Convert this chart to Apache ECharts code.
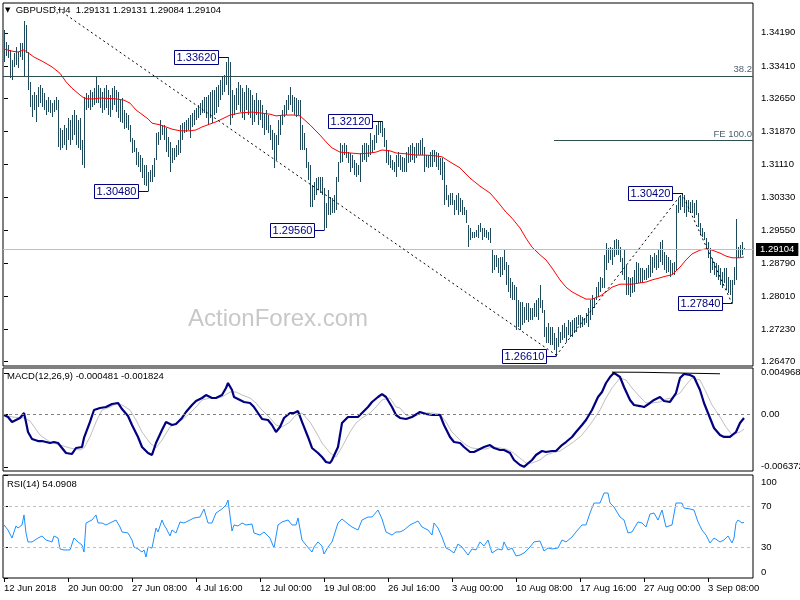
<!DOCTYPE html>
<html><head><meta charset="utf-8">
<script src="https://cdn.jsdelivr.net/npm/echarts@6.0.0/dist/echarts.min.js"></script>
<style>html,body{margin:0;padding:0;background:#fff}#c{width:800px;height:600px}</style>
</head><body><div id="c"></div>
<script>
const barHigh=[
1.3426,1.3397,1.3390,1.3379,1.3355,1.3372,1.3386,1.3374,1.3395,1.3395,
1.3447,1.3437,1.3374,1.3304,1.3273,1.3280,1.3273,1.3292,1.3297,1.3289,
1.3278,1.3261,1.3268,1.3261,1.3254,1.3261,1.3268,1.3261,1.3196,1.3191,
1.3203,1.3196,1.3219,1.3214,1.3226,1.3238,1.3226,1.3214,1.3219,1.3167,
1.3268,1.3278,1.3273,1.3285,1.3280,1.3289,1.3315,1.3297,1.3289,1.3280,
1.3289,1.3297,1.3285,1.3273,1.3289,1.3294,1.3285,1.3280,1.3261,1.3266,
1.3238,1.3231,1.3226,1.3203,1.3172,1.3167,1.3149,1.3139,1.3132,1.3125,
1.3109,1.3109,1.3092,1.3097,1.3109,1.3125,1.3184,1.3186,1.3214,1.3203,
1.3203,1.3196,1.3174,1.3163,1.3149,1.3149,1.3156,1.3167,1.3203,1.3207,
1.3210,1.3214,1.3219,1.3226,1.3231,1.3238,1.3243,1.3250,1.3254,1.3261,
1.3268,1.3268,1.3273,1.3280,1.3285,1.3285,1.3292,1.3297,1.3308,1.3315,
1.3320,1.3350,1.3362,1.3350,1.3285,1.3273,1.3289,1.3304,1.3297,1.3289,
1.3280,1.3297,1.3289,1.3285,1.3273,1.3261,1.3278,1.3261,1.3261,1.3250,
1.3231,1.3238,1.3226,1.3203,1.3191,1.3184,1.3179,1.3214,1.3226,1.3238,
1.3250,1.3261,1.3273,1.3292,1.3273,1.3268,1.3266,1.3261,1.3261,1.3203,
1.3184,1.3149,1.3116,1.3109,1.3062,1.3069,1.3078,1.3081,1.3081,1.3081,
1.3055,1.3020,1.3050,1.3034,1.3031,1.3038,1.3081,1.3116,1.3160,1.3156,
1.3160,1.3156,1.3139,1.3137,1.3132,1.3121,1.3113,1.3109,1.3137,1.3156,
1.3160,1.3160,1.3156,1.3184,1.3167,1.3179,1.3203,1.3210,1.3210,1.3212,
1.3196,1.3167,1.3144,1.3132,1.3121,1.3116,1.3132,1.3139,1.3132,1.3128,
1.3125,1.3139,1.3151,1.3156,1.3160,1.3151,1.3160,1.3160,1.3167,1.3172,
1.3151,1.3132,1.3132,1.3139,1.3144,1.3144,1.3139,1.3137,1.3125,1.3125,
1.3116,1.3062,1.3038,1.3043,1.3043,1.3027,1.3038,1.3043,1.3031,1.3027,
1.3010,1.3003,1.2968,1.2961,1.2951,1.2951,1.2956,1.2968,1.2972,1.2961,
1.2961,1.2956,1.2951,1.2961,1.2909,1.2898,1.2898,1.2890,1.2893,1.2893,
1.2909,1.2881,1.2874,1.2844,1.2834,1.2827,1.2822,1.2792,1.2787,1.2787,
1.2775,1.2785,1.2785,1.2773,1.2773,1.2785,1.2792,1.2797,1.2827,1.2792,
1.2768,1.2729,1.2738,1.2729,1.2729,1.2714,1.2703,1.2729,1.2717,1.2733,
1.2738,1.2729,1.2745,1.2740,1.2745,1.2750,1.2752,1.2757,1.2757,1.2752,
1.2750,1.2761,1.2773,1.2792,1.2804,1.2797,1.2822,1.2834,1.2846,1.2844,
1.2898,1.2926,1.2914,1.2916,1.2914,1.2933,1.2935,1.2933,1.2916,1.2890,
1.2909,1.2874,1.2846,1.2844,1.2846,1.2862,1.2881,1.2879,1.2867,1.2867,
1.2862,1.2867,1.2874,1.2898,1.2893,1.2902,1.2898,1.2909,1.2928,1.2933,
1.2905,1.2898,1.2893,1.2886,1.2879,1.2881,1.3015,1.3031,1.3038,1.3042,
1.3038,1.3027,1.3027,1.3022,1.3027,1.3020,1.3027,1.2996,1.2973,1.2961,
1.2951,1.2937,1.2928,1.2914,1.2890,1.2881,1.2879,1.2874,1.2867,1.2858,
1.2867,1.2867,1.2846,1.2839,1.2839,1.2869,1.2982,1.2916,1.2921,1.2928,
1.29131];
const barLow=[
1.3351,1.3365,1.3360,1.3313,1.3308,1.3339,1.3343,1.3336,1.3362,1.3355,
1.3315,1.3372,1.3285,1.3245,1.3221,1.3238,1.3210,1.3245,1.3254,1.3245,
1.3238,1.3226,1.3233,1.3231,1.3221,1.3233,1.3238,1.3151,1.3144,1.3149,
1.3156,1.3144,1.3167,1.3156,1.3167,1.3179,1.3156,1.3149,1.3144,1.3109,
1.3102,1.3238,1.3243,1.3238,1.3245,1.3250,1.3254,1.3254,1.3243,1.3231,
1.3238,1.3243,1.3226,1.3221,1.3238,1.3250,1.3233,1.3219,1.3210,1.3207,
1.3193,1.3196,1.3191,1.3163,1.3137,1.3139,1.3109,1.3104,1.3092,1.3078,
1.3062,1.3059,1.3048,1.3069,1.3069,1.3081,1.3121,1.3156,1.3167,1.3179,
1.3167,1.3139,1.3128,1.3092,1.3113,1.3121,1.3128,1.3132,1.3137,1.3167,
1.3184,1.3186,1.3191,1.3172,1.3198,1.3203,1.3214,1.3219,1.3226,1.3231,
1.3231,1.3219,1.3203,1.3219,1.3207,1.3226,1.3231,1.3245,1.3261,1.3273,
1.3280,1.3297,1.3273,1.3203,1.3219,1.3226,1.3238,1.3250,1.3233,1.3219,
1.3214,1.3238,1.3226,1.3219,1.3203,1.3210,1.3226,1.3203,1.3214,1.3196,
1.3179,1.3191,1.3184,1.3167,1.3144,1.3102,1.3121,1.3156,1.3179,1.3203,
1.3221,1.3226,1.3238,1.3250,1.3233,1.3226,1.3221,1.3226,1.3144,1.3144,
1.3144,1.3102,1.3074,1.3010,1.3010,1.3027,1.3038,1.3050,1.3043,1.3038,
1.2956,1.2961,1.2991,1.2991,1.2996,1.2996,1.3003,1.3069,1.3113,1.3116,
1.3132,1.3125,1.3113,1.3092,1.3102,1.3085,1.3081,1.3085,1.3069,1.3116,
1.3121,1.3116,1.3128,1.3132,1.3137,1.3144,1.3160,1.3179,1.3184,1.3174,
1.3151,1.3113,1.3109,1.3102,1.3097,1.3092,1.3081,1.3104,1.3097,1.3092,
1.3092,1.3092,1.3113,1.3116,1.3121,1.3113,1.3125,1.3132,1.3132,1.3132,
1.3092,1.3104,1.3102,1.3104,1.3104,1.3116,1.3104,1.3097,1.3085,1.3074,
1.3015,1.3027,1.3010,1.3015,1.3015,1.2991,1.3003,1.2991,1.2998,1.2991,
1.2991,1.2972,1.2916,1.2933,1.2937,1.2937,1.2940,1.2937,1.2951,1.2933,
1.2940,1.2937,1.2933,1.2926,1.2855,1.2862,1.2869,1.2855,1.2846,1.2851,
1.2862,1.2827,1.2811,1.2797,1.2792,1.2792,1.2722,1.2729,1.2722,1.2733,
1.2738,1.2745,1.2740,1.2745,1.2745,1.2752,1.2752,1.2745,1.2773,1.2761,
1.2705,1.2691,1.2691,1.2686,1.2686,1.2675,1.2661,1.2682,1.2691,1.2698,
1.2703,1.2693,1.2710,1.2705,1.2705,1.2714,1.2717,1.2733,1.2726,1.2729,
1.2733,1.2738,1.2729,1.2745,1.2757,1.2773,1.2792,1.2799,1.2811,1.2820,
1.2820,1.2862,1.2879,1.2886,1.2874,1.2893,1.2898,1.2898,1.2881,1.2851,
1.2839,1.2804,1.2804,1.2799,1.2808,1.2811,1.2832,1.2832,1.2832,1.2832,
1.2839,1.2839,1.2843,1.2846,1.2855,1.2867,1.2862,1.2867,1.2881,1.2874,
1.2862,1.2855,1.2858,1.2846,1.2851,1.2851,1.2862,1.2996,1.3003,1.3010,
1.2996,1.2987,1.2998,1.2996,1.2996,1.2984,1.2991,1.2963,1.2944,1.2940,
1.2933,1.2909,1.2890,1.2855,1.2862,1.2851,1.2846,1.2839,1.2827,1.2820,
1.2832,1.2816,1.2808,1.2804,1.2784,1.2827,1.2839,1.2890,1.2893,1.2898,
1.29084];
const maPoints=[[0,1.3381],[4,1.3376],[7,1.3374],[10,1.3379],[11,1.3381],[13,1.3369],[15,1.3362],[18,1.3355],[20,1.3350],[24,1.3339],[28,1.3324],[31,1.3304],[34,1.3289],[38,1.3273],[40,1.3266],[42,1.3264],[45,1.3264],[48,1.3266],[56,1.3264],[60,1.3261],[63,1.3254],[66,1.3238],[70,1.3224],[72,1.3217],[74,1.3207],[78,1.3203],[81,1.3198],[84,1.3193],[88,1.3189],[93,1.3189],[96,1.3191],[99,1.3198],[103,1.3205],[106,1.3210],[110,1.3219],[113,1.3226],[118,1.3231],[124,1.3233],[128,1.3231],[133,1.3228],[136,1.3224],[140,1.3226],[145,1.3226],[148,1.3224],[153,1.3203],[158,1.3179],[161,1.3163],[164,1.3149],[168,1.3139],[173,1.3137],[178,1.3135],[183,1.3137],[186,1.3139],[189,1.3144],[193,1.3142],[196,1.3137],[201,1.3135],[206,1.3132],[211,1.3132],[216,1.3130],[219,1.3128],[223,1.3116],[228,1.3102],[233,1.3078],[238,1.3059],[243,1.3043],[246,1.3027],[251,1.2998],[254,1.2984],[258,1.2961],[261,1.2937],[264,1.2916],[268,1.2898],[271,1.2886],[274,1.2867],[278,1.2839],[281,1.2822],[284,1.2811],[288,1.2801],[291,1.2794],[294,1.2794],[298,1.2801],[301,1.2811],[304,1.2822],[308,1.2829],[311,1.2829],[314,1.2829],[318,1.2832],[321,1.2834],[324,1.2839],[328,1.2844],[331,1.2848],[334,1.2851],[338,1.2869],[341,1.2886],[344,1.2900],[348,1.2909],[351,1.2912],[354,1.2909],[358,1.2902],[361,1.2895],[364,1.2891],[368,1.2891],[370,1.2893]];
const macdPoints=[[0,-0.00012],[2,-0.00036],[4,-0.00096],[6,-0.00072],[8,-0.00048],[10,0.00012],[11,-0.00096],[12,-0.00217],[14,-0.00302],[17,-0.00326],[19,-0.00326],[23,-0.00350],[25,-0.00338],[27,-0.00350],[29,-0.00410],[31,-0.00470],[34,-0.00482],[36,-0.00410],[39,-0.00398],[40,-0.00289],[43,-0.00096],[45,0.00048],[48,0.00072],[51,0.00084],[54,0.00121],[57,0.00133],[59,0.00060],[62,-0.00024],[64,-0.00133],[67,-0.00277],[69,-0.00398],[72,-0.00470],[74,-0.00494],[76,-0.00350],[79,-0.00193],[81,-0.00096],[84,-0.00133],[86,-0.00121],[89,-0.00048],[91,0.00024],[94,0.00109],[96,0.00157],[99,0.00193],[101,0.00229],[104,0.00193],[106,0.00193],[109,0.00229],[111,0.00314],[112,0.00374],[114,0.00289],[115,0.00205],[118,0.00169],[120,0.00145],[123,0.00133],[125,0.00084],[127,0.00012],[129,-0.00060],[132,-0.00072],[134,-0.00133],[136,-0.00217],[138,-0.00157],[140,-0.00048],[143,0.00012],[145,0.00012],[147,0.00036],[149,-0.00096],[152,-0.00277],[154,-0.00410],[157,-0.00470],[159,-0.00519],[161,-0.00579],[163,-0.00591],[164,-0.00555],[167,-0.00398],[169,-0.00109],[172,-0.00036],[174,-0.00036],[177,-0.00036],[179,0.00012],[182,0.00084],[184,0.00145],[187,0.00205],[189,0.00241],[191,0.00205],[194,0.00084],[196,-0.00012],[198,-0.00048],[201,-0.00060],[204,-0.00036],[208,0.00024],[211,0],[214,-0.00012],[218,-0.00012],[220,-0.00133],[223,-0.00277],[225,-0.00338],[228,-0.00350],[230,-0.00398],[233,-0.00458],[235,-0.00458],[238,-0.00422],[240,-0.00398],[243,-0.00374],[245,-0.00410],[248,-0.00434],[250,-0.00434],[253,-0.00470],[255,-0.00555],[258,-0.00615],[260,-0.006372],[261,-0.00615],[264,-0.00555],[266,-0.00494],[269,-0.00446],[271,-0.00458],[274,-0.00446],[276,-0.00446],[279,-0.00374],[281,-0.00338],[284,-0.00277],[286,-0.00217],[289,-0.00133],[291,-0.00072],[294,0.00048],[297,0.00205],[299,0.00265],[301,0.00374],[303,0.00446],[305,0.004968],[308,0.00446],[310,0.00326],[313,0.00169],[315,0.00109],[318,0.00096],[320,0.00084],[323,0.00133],[325,0.00169],[328,0.00205],[330,0.00157],[333,0.00145],[334,0.00133],[336,0.00253],[338,0.00434],[340,0.00482],[343,0.00470],[345,0.00446],[348,0.00289],[350,0.00133],[353,-0.00048],[355,-0.00169],[358,-0.00253],[360,-0.00277],[363,-0.00277],[364,-0.00289],[366,-0.00217],[368,-0.00109],[370,-0.000481]];
const signalPoints=[[0,-0.00012],[4,-0.00036],[10,-0.00048],[13,-0.00084],[18,-0.00253],[23,-0.00338],[28,-0.00374],[33,-0.00410],[38,-0.00434],[40,-0.00410],[43,-0.00277],[46,-0.00096],[49,0.00048],[53,0.00084],[56,0.00121],[59,0.00109],[63,0.00048],[66,-0.00072],[69,-0.00217],[73,-0.00350],[76,-0.00410],[79,-0.00314],[83,-0.00157],[86,-0.00109],[89,-0.00072],[93,0.00012],[96,0.00084],[99,0.00169],[103,0.00193],[106,0.00193],[109,0.00205],[113,0.00265],[116,0.00265],[119,0.00229],[123,0.00193],[126,0.00133],[129,0.00048],[133,-0.00048],[136,-0.00133],[139,-0.00157],[143,-0.00096],[146,-0.00012],[149,0.00012],[153,-0.00096],[156,-0.00217],[159,-0.00350],[163,-0.00470],[166,-0.00519],[169,-0.00398],[173,-0.00217],[176,-0.00109],[179,-0.00048],[183,0.00012],[186,0.00084],[189,0.00169],[193,0.00193],[196,0.00084],[198,0.00072],[201,-0.00012],[204,-0.00036],[208,0],[211,0.00012],[214,0.00012],[218,0],[221,-0.00096],[224,-0.00217],[228,-0.00314],[231,-0.00374],[234,-0.00410],[238,-0.00422],[241,-0.00422],[244,-0.00398],[248,-0.00410],[251,-0.00422],[254,-0.00458],[258,-0.00531],[261,-0.00591],[264,-0.00591],[268,-0.00555],[271,-0.00494],[274,-0.00470],[278,-0.00446],[281,-0.00398],[284,-0.00350],[288,-0.00277],[291,-0.00193],[294,-0.00096],[298,0.00048],[301,0.00193],[304,0.00314],[308,0.00434],[311,0.00410],[314,0.00314],[318,0.00205],[321,0.00133],[324,0.00133],[328,0.00145],[331,0.00181],[334,0.00193],[338,0.00253],[341,0.00350],[344,0.00434],[348,0.00410],[351,0.00265],[354,0.00109],[358,-0.00036],[361,-0.00157],[364,-0.00253],[368,-0.00217],[370,-0.001824]];
const rsiPoints=[[0,51.5],[2,46.6],[4,38.8],[6,50.5],[7,48.5],[9,51.5],[10,61.2],[11,43.7],[12,35.0],[14,35.0],[17,38.8],[19,40.8],[21,36.9],[24,35.0],[25,40.8],[27,38.8],[28,28.2],[30,27.2],[33,27.2],[34,27.2],[35,38.8],[37,35.0],[39,32.0],[40,25.2],[41,53.4],[42,53.4],[44,56.3],[46,61.2],[47,53.4],[49,53.4],[51,51.5],[54,54.4],[56,56.3],[58,49.5],[59,44.7],[62,43.7],[64,36.9],[65,30.1],[67,28.2],[69,25.2],[70,27.2],[71,20.4],[72,30.1],[74,29.1],[75,38.8],[76,48.5],[77,44.7],[79,56.3],[80,51.5],[81,48.5],[83,40.8],[84,46.6],[86,43.7],[88,54.4],[90,53.4],[93,56.3],[95,58.3],[98,59.2],[100,67.0],[102,53.4],[104,53.4],[106,63.1],[109,67.0],[111,70.9],[112,75.7],[114,45.6],[115,51.5],[117,50.5],[119,53.4],[121,51.5],[124,52.4],[125,43.7],[128,41.7],[130,44.7],[133,38.8],[135,29.1],[137,51.5],[139,54.4],[142,56.3],[144,51.5],[146,51.5],[147,58.3],[149,36.9],[151,32.0],[154,25.2],[155,30.1],[157,35.0],[159,31.1],[160,23.3],[162,30.1],[164,35.0],[165,36.9],[167,53.4],[169,57.3],[172,52.4],[174,49.5],[177,46.6],[179,56.3],[182,59.2],[184,59.2],[187,66.0],[189,57.3],[191,44.7],[194,41.7],[196,44.7],[198,44.7],[200,46.6],[203,51.5],[205,53.4],[207,55.3],[209,49.5],[212,46.6],[214,41.7],[215,53.4],[217,48.5],[219,39.8],[221,29.1],[223,27.2],[225,24.3],[227,33.0],[229,30.1],[232,22.3],[234,28.2],[236,27.2],[238,35.0],[240,31.1],[242,36.9],[244,24.3],[247,28.2],[249,27.2],[250,35.0],[252,27.2],[254,29.1],[256,21.4],[258,22.3],[260,24.3],[263,30.1],[265,35.0],[268,35.9],[270,26.2],[272,29.1],[274,28.2],[277,29.1],[279,36.9],[281,35.0],[284,39.8],[286,44.7],[289,51.5],[291,51.5],[293,63.1],[295,72.8],[298,72.8],[300,82.5],[302,82.5],[303,72.8],[305,68.9],[308,59.2],[310,56.3],[312,43.7],[314,44.7],[317,54.4],[319,53.4],[321,49.5],[323,62.1],[325,63.1],[327,56.3],[329,66.0],[331,49.5],[334,51.5],[335,53.4],[336,72.8],[339,72.8],[340,68.0],[343,67.0],[345,66.0],[347,54.4],[349,46.6],[351,41.7],[353,34.0],[355,38.8],[358,35.0],[360,36.9],[362,40.8],[364,34.0],[365,38.8],[366,53.4],[367,56.3],[369,53.4],[370,54.09]];
const priceTicks=[1.26470,1.27230,1.28010,1.28790,1.29550,1.30330,1.31110,1.31870,1.32650,1.33410,1.34190];
const macdTicks=[-0.006372,0,0.004968];
const rsiTicks=[0,30,70,100];
const dateLabels=['12 Jun 2018','20 Jun 00:00','27 Jun 08:00','4 Jul 16:00','12 Jul 00:00','19 Jul 08:00','26 Jul 16:00','3 Aug 00:00','10 Aug 08:00','17 Aug 16:00','27 Aug 00:00','3 Sep 08:00'];
const dateTickIdx=[0,32,64,96,128,160,192,224,256,288,320,352];
const lastPrice=1.29104;
const fib382=1.3318, fe100=1.3167, feStart=275;
const trendLine=[[25,1.3481],[276,1.2663]];
const feLines=[[276,1.2661],[339,1.3042],[364,1.2784]];
const macdTopLine=[[304,0.00505],[319,0.00503],[320,0.00490],[358,0.00485]];
const extremeLabels=[[72,1.3048,'1.30480'],[112,1.3362,'1.33620'],[160,1.2956,'1.29560'],[189,1.3212,'1.32120'],[276,1.2661,'1.26610'],[339,1.3042,'1.30420'],[364,1.2784,'1.27840']];
const titleMain='GBPUSD,H4  1.29131 1.29131 1.29084 1.29104';
const titleMacd='MACD(12,26,9) -0.000481 -0.001824';
const titleRsi='RSI(14) 54.0908';

const FONT='"Liberation Sans", Arial, sans-serif';
const N=375;
const chart=echarts.init(document.getElementById('c'));
function renderBar(params, api){
  const i=api.value(0);
  const p1=api.coord([i,api.value(1)]);
  const p2=api.coord([i,api.value(2)]);
  const x=Math.round(p1[0])+0.5;
  let y1=Math.round(p1[1]), y2=Math.round(p2[1]);
  if(y2-y1<1) y2=y1+1;
  return {type:'line',shape:{x1:x,y1:y1,x2:x,y2:y2},style:{stroke:'#1f4a5c',lineWidth:1}};
}
function renderExtreme(params, api){
  const i=api.value(0), v=api.value(1);
  const p=api.coord([i,v]);
  const txt=extremeLabels[params.dataIndex][2];
  const boxW=44, boxH=14, gap=10;
  const bx=Math.round(p[0])-gap-boxW, by=Math.round(p[1])-boxH/2;
  return {type:'group',children:[
    {type:'line',shape:{x1:bx+boxW,y1:Math.round(p[1])+0.5,x2:Math.round(p[0])+0.5,y2:Math.round(p[1])+0.5},style:{stroke:'#000080',lineWidth:1}},
    {type:'rect',shape:{x:bx+0.5,y:by+0.5,width:boxW,height:boxH},style:{fill:'#fff',stroke:'#000080',lineWidth:1}},
    {type:'text',style:{text:txt,x:bx+boxW/2+0.5,y:by+boxH/2+1,align:'center',verticalAlign:'middle',fill:'#000080',font:'11px '+FONT}}
  ]};
}
const axisFont={fontSize:9.5,color:'#000',fontFamily:FONT};
const gridBase={show:true,borderColor:'#000',borderWidth:1,outerBoundsMode:'none',containLabel:false};
const option={
  animation:false,
  backgroundColor:'#fff',
  textStyle:{fontFamily:FONT},
  title:[
    {text:'{tri|▼}  '+titleMain,left:5,top:5,padding:0,textStyle:{fontSize:9.5,fontWeight:'normal',color:'#000',fontFamily:FONT,rich:{tri:{fontSize:7,color:'#000',fontFamily:'DejaVu Sans'}}}},
    {text:titleMacd,left:7,top:371,padding:0,textStyle:{fontSize:9.5,fontWeight:'normal',color:'#000',fontFamily:FONT}},
    {text:titleRsi,left:7,top:479,padding:0,textStyle:{fontSize:9.5,fontWeight:'normal',color:'#000',fontFamily:FONT}}
  ],
  graphic:[{type:'text',left:188,top:307,z:0,style:{text:'ActionForex.com',fontSize:24,fill:'#c8c8c8',fontFamily:FONT}}],
  grid:[
    Object.assign({left:3,top:3,width:750,height:363},gridBase),
    Object.assign({left:3,top:368,width:750,height:103},gridBase),
    Object.assign({left:3,top:475,width:750,height:103},gridBase)
  ],
  xAxis:[
    {type:'value',gridIndex:0,min:-0.5,max:N-0.5,show:false},
    {type:'value',gridIndex:1,min:-0.5,max:N-0.5,show:false},
    {type:'value',gridIndex:2,min:-0.5,max:N-0.5,axisLine:{show:false},splitLine:{show:false},
     axisTick:{show:true,customValues:dateTickIdx,length:4,lineStyle:{color:'#000'}},
     axisLabel:Object.assign({customValues:dateTickIdx,formatter:v=>dateLabels[Math.round(v/32)],align:'left',margin:5},axisFont)}
  ],
  yAxis:[
    {type:'value',gridIndex:0,position:'right',min:1.2637,max:1.3489,axisLine:{show:false},splitLine:{show:false},
     axisTick:{show:true,customValues:priceTicks,length:4,lineStyle:{color:'#000'}},
     axisLabel:Object.assign({customValues:priceTicks,formatter:v=>v.toFixed(5),margin:8},axisFont)},
    {type:'value',gridIndex:1,position:'right',min:-0.006874,max:0.005548,axisLine:{show:false},splitLine:{show:false},
     axisTick:{show:true,customValues:macdTicks,length:4,lineStyle:{color:'#000'}},
     axisLabel:Object.assign({customValues:macdTicks,formatter:v=>v===0?'0.00':v.toFixed(6),margin:8},axisFont)},
    {type:'value',gridIndex:2,position:'right',min:0,max:100,axisLine:{show:false},splitLine:{show:false},
     axisTick:{show:true,customValues:rsiTicks,length:4,lineStyle:{color:'#000'}},
     axisLabel:Object.assign({customValues:rsiTicks,margin:8,
       formatter:v=>v===100?'{t|100}':(v===0?'{b|0}':String(v)),
       rich:{t:{padding:[14,0,0,0],fontSize:9.5,fontFamily:FONT,color:'#000'},b:{padding:[0,0,12,0],fontSize:9.5,fontFamily:FONT,color:'#000'}}},axisFont)}
  ],
  series:[
    {type:'line',xAxisIndex:0,yAxisIndex:0,data:[],silent:true,z:1,
     markLine:{symbol:['none','none'],silent:true,animation:false,
      data:[
       [{coord:[-0.5,lastPrice],lineStyle:{color:'#c0c0c0',width:1,type:'solid'},
         label:{show:true,position:'end',formatter:'1.29104',backgroundColor:'#000',color:'#fff',padding:[2,4,1,4],distance:3,fontSize:9.5,fontFamily:FONT}},
        {coord:[N-0.5,lastPrice]}],
       [{coord:[-0.5,fib382],lineStyle:{color:'#2f4f4f',width:1,type:'solid'},
         label:{show:true,position:'insideEndTop',formatter:'38.2',color:'#4f5f6f',distance:[1,1],fontSize:9.5,fontFamily:FONT}},
        {coord:[N-0.5,fib382]}],
       [{coord:[feStart,fe100],lineStyle:{color:'#2f4f4f',width:1,type:'solid'},
         label:{show:true,position:'insideEndTop',formatter:'FE 100.0',color:'#4f5f6f',distance:[1,1],fontSize:9.5,fontFamily:FONT}},
        {coord:[N-0.5,fe100]}]
      ]}},
    {type:'custom',xAxisIndex:0,yAxisIndex:0,renderItem:renderBar,clip:true,z:3,
     data:barHigh.map((h,i)=>[i,h,barLow[i]]),encode:{x:0,y:[1,2]}},
    {type:'line',xAxisIndex:0,yAxisIndex:0,data:maPoints,symbol:'none',lineStyle:{color:'#ff0000',width:1},z:4},
    {type:'line',xAxisIndex:0,yAxisIndex:0,data:trendLine,symbol:'none',lineStyle:{color:'#000',width:1,type:[2,3]},z:5},
    {type:'line',xAxisIndex:0,yAxisIndex:0,data:feLines,symbol:'none',lineStyle:{color:'#000',width:1,type:[2,3]},z:5},
    {type:'custom',xAxisIndex:0,yAxisIndex:0,renderItem:renderExtreme,z:6,
     data:extremeLabels.map(e=>[e[0],e[1]]),encode:{x:0,y:1}},
    {type:'line',xAxisIndex:1,yAxisIndex:1,data:[],silent:true,
     markLine:{symbol:['none','none'],silent:true,animation:false,label:{show:false},
      data:[[{coord:[-0.5,0],lineStyle:{color:'#808080',width:1,type:[3,3]}},{coord:[N-0.5,0]}]]}},
    {type:'line',xAxisIndex:1,yAxisIndex:1,data:signalPoints,symbol:'none',lineStyle:{color:'#c0c0c0',width:1},z:3},
    {type:'line',xAxisIndex:1,yAxisIndex:1,data:macdPoints,symbol:'none',lineStyle:{color:'#000080',width:2.2},z:4},
    {type:'line',xAxisIndex:1,yAxisIndex:1,data:macdTopLine,symbol:'none',lineStyle:{color:'#000',width:1},z:5},
    {type:'line',xAxisIndex:2,yAxisIndex:2,data:[],silent:true,
     markLine:{symbol:['none','none'],silent:true,animation:false,label:{show:false},
      data:[[{coord:[-0.5,70],lineStyle:{color:'#c0c0c0',width:1,type:[3,3]}},{coord:[N-0.5,70]}],
            [{coord:[-0.5,30],lineStyle:{color:'#c0c0c0',width:1,type:[3,3]}},{coord:[N-0.5,30]}]]}},
    {type:'line',xAxisIndex:2,yAxisIndex:2,data:rsiPoints,symbol:'none',lineStyle:{color:'#1e90ff',width:1},z:4}
  ]
};
chart.setOption(option);
</script>
</body></html>
